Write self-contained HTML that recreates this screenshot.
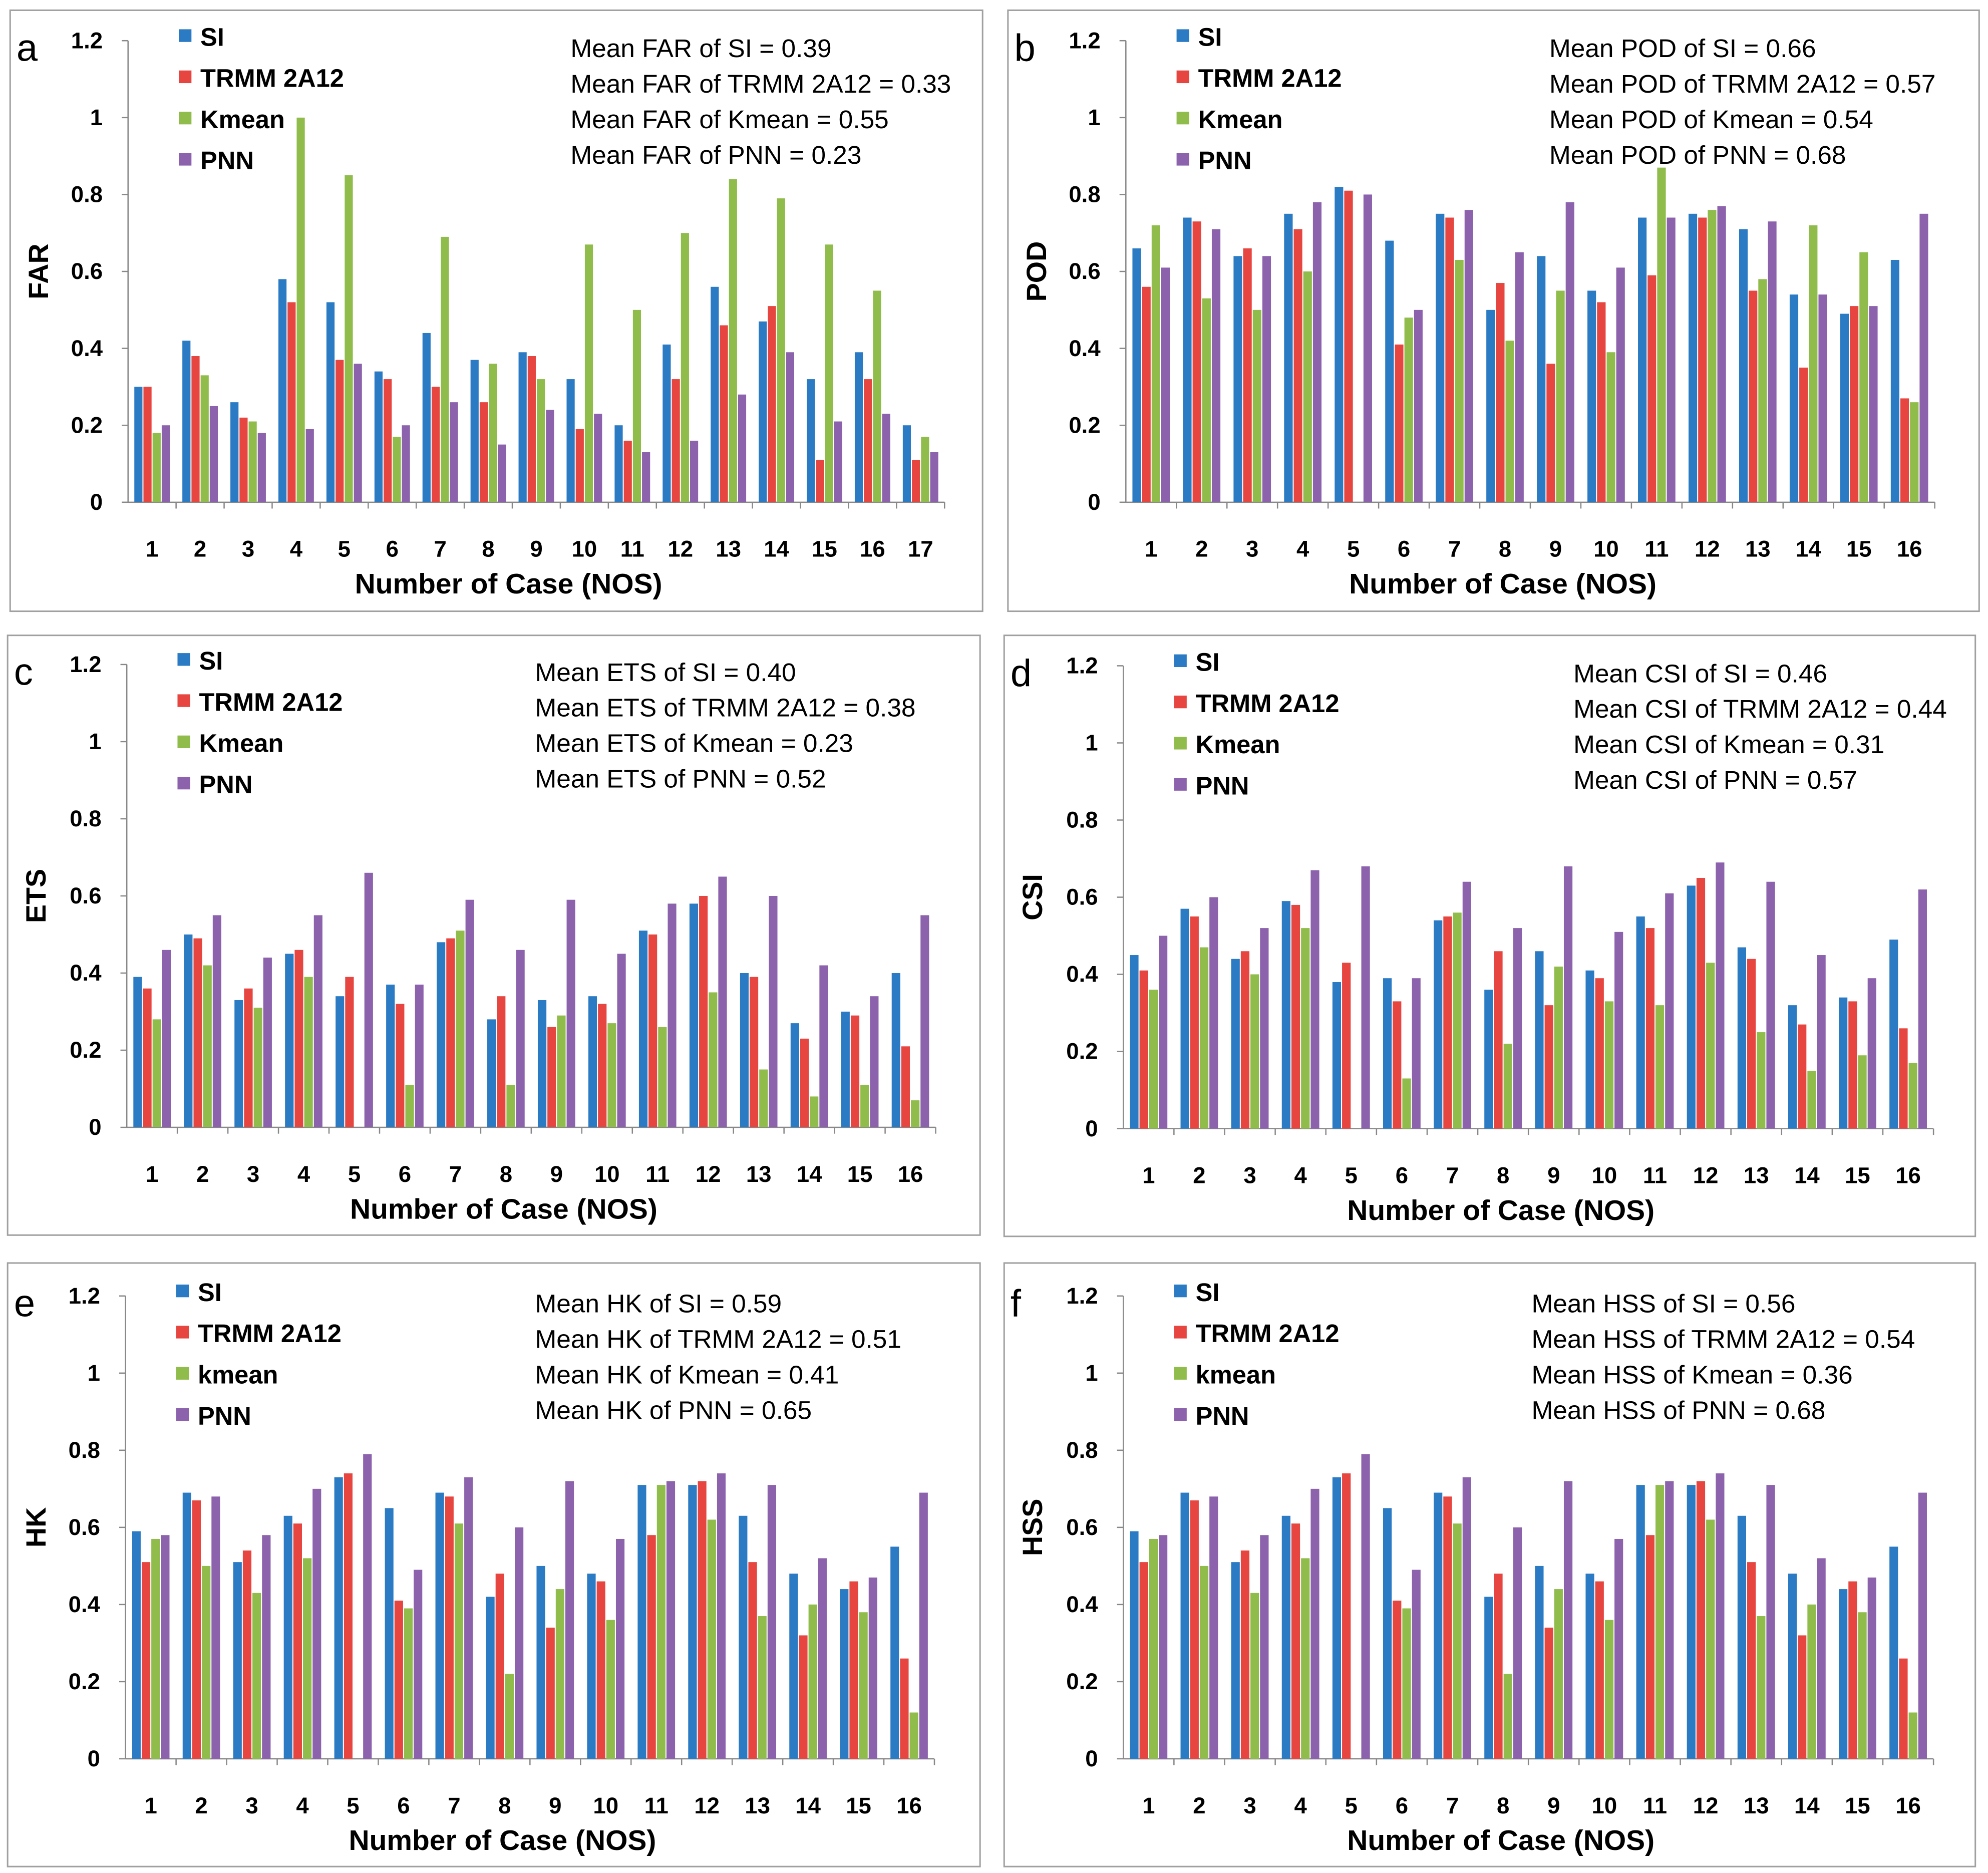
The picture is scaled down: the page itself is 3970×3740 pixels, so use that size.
<!DOCTYPE html>
<html><head><meta charset="utf-8"><style>
html,body{margin:0;padding:0;background:#fff}
svg{display:block}
text{font-family:"Liberation Sans",sans-serif}
</style></head><body>
<svg id="fig" width="3970" height="3740" viewBox="0 0 1568 1477" xmlns="http://www.w3.org/2000/svg"></svg>
<script>
const seriesNames=["SI","TRMM 2A12","Kmean","PNN"];
const seriesNamesLower=["SI","TRMM 2A12","kmean","PNN"];
const colors=["#2a7bc4","#e64540","#8fbc4a","#8c62ad"];
const yTicks=[0,0.2,0.4,0.6,0.8,1,1.2];
const yTickLabels=["0","0.2","0.4","0.6","0.8","1","1.2"];
const catsA=["1","2","3","4","5","6","7","8","9","10","11","12","13","14","15","16","17"];
const cats16=["1","2","3","4","5","6","7","8","9","10","11","12","13","14","15","16"];
const farSI=[.30,.42,.26,.58,.52,.34,.44,.37,.39,.32,.20,.41,.56,.47,.32,.39,.20];
const farTRMM=[.30,.38,.22,.52,.37,.32,.30,.26,.38,.19,.16,.32,.46,.51,.11,.32,.11];
const farKmean=[.18,.33,.21,1.0,.85,.17,.69,.36,.32,.67,.50,.70,.84,.79,.67,.55,.17];
const farPNN=[.20,.25,.18,.19,.36,.20,.26,.15,.24,.23,.13,.16,.28,.39,.21,.23,.13];
const podSI=[.66,.74,.64,.75,.82,.68,.75,.50,.64,.55,.74,.75,.71,.54,.49,.63];
const podTRMM=[.56,.73,.66,.71,.81,.41,.74,.57,.36,.52,.59,.74,.55,.35,.51,.27];
const podKmean=[.72,.53,.50,.60,0,.48,.63,.42,.55,.39,.87,.76,.58,.72,.65,.26];
const podPNN=[.61,.71,.64,.78,.80,.50,.76,.65,.78,.61,.74,.77,.73,.54,.51,.75];
const etsSI=[.39,.50,.33,.45,.34,.37,.48,.28,.33,.34,.51,.58,.40,.27,.30,.40];
const etsTRMM=[.36,.49,.36,.46,.39,.32,.49,.34,.26,.32,.50,.60,.39,.23,.29,.21];
const etsKmean=[.28,.42,.31,.39,0,.11,.51,.11,.29,.27,.26,.35,.15,.08,.11,.07];
const etsPNN=[.46,.55,.44,.55,.66,.37,.59,.46,.59,.45,.58,.65,.60,.42,.34,.55];
const csiSI=[.45,.57,.44,.59,.38,.39,.54,.36,.46,.41,.55,.63,.47,.32,.34,.49];
const csiTRMM=[.41,.55,.46,.58,.43,.33,.55,.46,.32,.39,.52,.65,.44,.27,.33,.26];
const csiKmean=[.36,.47,.40,.52,0,.13,.56,.22,.42,.33,.32,.43,.25,.15,.19,.17];
const csiPNN=[.50,.60,.52,.67,.68,.39,.64,.52,.68,.51,.61,.69,.64,.45,.39,.62];
const hkSI=[.59,.69,.51,.63,.73,.65,.69,.42,.50,.48,.71,.71,.63,.48,.44,.55];
const hkTRMM=[.51,.67,.54,.61,.74,.41,.68,.48,.34,.46,.58,.72,.51,.32,.46,.26];
const hkKmean=[.57,.50,.43,.52,0,.39,.61,.22,.44,.36,.71,.62,.37,.40,.38,.12];
const hkPNN=[.58,.68,.58,.70,.79,.49,.73,.60,.72,.57,.72,.74,.71,.52,.47,.69];
const hssSI=[.59,.69,.51,.63,.73,.65,.69,.42,.50,.48,.71,.71,.63,.48,.44,.55];
const hssTRMM=[.51,.67,.54,.61,.74,.41,.68,.48,.34,.46,.58,.72,.51,.32,.46,.26];
const hssKmean=[.57,.50,.43,.52,0,.39,.61,.22,.44,.36,.71,.62,.37,.40,.38,.12];
const hssPNN=[.58,.68,.58,.70,.79,.49,.73,.60,.72,.57,.72,.74,.71,.52,.47,.69];
const statsA=["Mean FAR of SI = 0.39","Mean FAR of TRMM 2A12 = 0.33","Mean FAR of Kmean = 0.55","Mean FAR of PNN = 0.23"];
const statsB=["Mean POD of SI = 0.66","Mean POD of TRMM 2A12 = 0.57","Mean POD of Kmean = 0.54","Mean POD of PNN = 0.68"];
const statsC=["Mean ETS of SI = 0.40","Mean ETS of TRMM 2A12 = 0.38","Mean ETS of Kmean = 0.23","Mean ETS of PNN = 0.52"];
const statsD=["Mean CSI of SI = 0.46","Mean CSI of TRMM 2A12 = 0.44","Mean CSI of Kmean = 0.31","Mean CSI of PNN = 0.57"];
const statsE=["Mean HK of SI = 0.59","Mean HK of TRMM 2A12 = 0.51","Mean HK of Kmean = 0.41","Mean HK of PNN = 0.65"];
const statsF=["Mean HSS of SI = 0.56","Mean HSS of TRMM 2A12 = 0.54","Mean HSS of Kmean = 0.36","Mean HSS of PNN = 0.68"];

const NS="http://www.w3.org/2000/svg";
const svg=document.getElementById('fig');
function mk(tag,attrs,parent,txt){const e=document.createElementNS(NS,tag);for(const k in attrs)e.setAttribute(k,attrs[k]);if(txt!==undefined)e.textContent=txt;(parent||svg).appendChild(e);return e;}

const panels=[
 {id:"a",box:[8,8,767,474],ax:101,ax2:745,y0:396,y1:32,cats:catsA,data:[farSI,farTRMM,farKmean,farPNN],yt:"FAR",stats:statsA,sx:450,names:seriesNames},
 {id:"b",box:[795,8,766,474],ax:888,ax2:1526,y0:396,y1:32,cats:cats16,data:[podSI,podTRMM,podKmean,podPNN],yt:"POD",stats:statsB,sx:1222,names:seriesNames},
 {id:"c",box:[6,501,767,473],ax:100,ax2:738,y0:889,y1:524,cats:cats16,data:[etsSI,etsTRMM,etsKmean,etsPNN],yt:"ETS",stats:statsC,sx:422,names:seriesNames},
 {id:"d",box:[792,501,766,474],ax:886,ax2:1525,y0:890,y1:525,cats:cats16,data:[csiSI,csiTRMM,csiKmean,csiPNN],yt:"CSI",stats:statsD,sx:1241,names:seriesNames},
 {id:"e",box:[6,996,767,476],ax:99,ax2:737,y0:1387,y1:1022,cats:cats16,data:[hkSI,hkTRMM,hkKmean,hkPNN],yt:"HK",stats:statsE,sx:422,names:seriesNamesLower},
 {id:"f",box:[792,996,766,476],ax:886,ax2:1525,y0:1387,y1:1022,cats:cats16,data:[hssSI,hssTRMM,hssKmean,hssPNN],yt:"HSS",stats:statsF,sx:1208,names:seriesNamesLower}
];
const keys=["si","trmm","kmean","pnn"];
panels.forEach(p=>{
 const g=mk('g',{});
 
 
 const box=mk('rect',{x:p.box[0],y:p.box[1],width:p.box[2],height:p.box[3],fill:'none',stroke:'#a0a0a0','stroke-width':1.2},g);
 
 
 const y=v=>p.y0-(p.y0-p.y1)*v/1.2;
 const n=p.cats.length, step=(p.ax2-p.ax)/n;
 const x=i=>p.ax+step*(i+0.5);
 const ya=mk('line',{x1:p.ax,y1:p.y1,x2:p.ax,y2:p.y0,stroke:'#888','stroke-width':1},g);
 
 yTicks.forEach((t,i)=>{
  mk('line',{x1:p.ax-5,y1:y(t),x2:p.ax,y2:y(t),stroke:'#888'},g);
  const tl=mk('text',{x:p.ax-20,y:y(t)+6,'text-anchor':'end','font-size':18,'font-weight':'bold',fill:'#000'},g,yTickLabels[i]);
  
 });
 const xa=mk('line',{x1:p.ax,y1:p.y0,x2:p.ax2,y2:p.y0,stroke:'#888','stroke-width':1},g);
 
 const bw=step*0.19;
 p.cats.forEach((c,i)=>{
  mk('line',{x1:p.ax+step*(i+1),y1:p.y0,x2:p.ax+step*(i+1),y2:p.y0+5,stroke:'#888'},g);
  const tl=mk('text',{x:x(i),y:p.y0+43,'text-anchor':'middle','font-size':18,'font-weight':'bold',fill:'#000'},g,c);
  
  p.data.forEach((arr,s)=>{
   const v=arr[i]; if(!v) return;
   const bx=x(i)-2*bw+s*bw;
   const r=mk('rect',{x:bx+0.4,y:y(v),width:bw-0.8,height:p.y0-y(v),fill:colors[s]},g);
   
   
  });
 });
 const xt=mk('text',{x:p.ax+(p.ax2-p.ax)*0.466,y:p.y0+72,'text-anchor':'middle','font-size':22.5,'font-weight':'bold',fill:'#000'},g,'Number of Case (NOS)');
 
 const ym=(p.y0+p.y1)/2;
 const yt=mk('text',{x:0,y:0,transform:`translate(${p.box[0]+30},${ym}) rotate(-90)`,'text-anchor':'middle','font-size':22,'font-weight':'bold',fill:'#000'},g,p.yt);
 
 const pl=mk('text',{x:p.box[0]+5,y:p.y1+16,'font-size':30,fill:'#000'},g,p.id);
 
 p.names.forEach((nm,s)=>{
  const ly=p.y1-2+s*32.5;
  const sq=mk('rect',{x:p.ax+40,y:ly-7,width:10,height:10,fill:colors[s]},g);
  
  const lt=mk('text',{x:p.ax+57,y:ly+6,'font-size':20,'font-weight':'bold',fill:'#000'},g,nm);
  
 });
 p.stats.forEach((s,k)=>{
  const st=mk('text',{x:p.sx,y:p.y1+13+k*28,'font-size':20.3,fill:'#000'},g,s);
  
 });
});
</script>
</body></html>
